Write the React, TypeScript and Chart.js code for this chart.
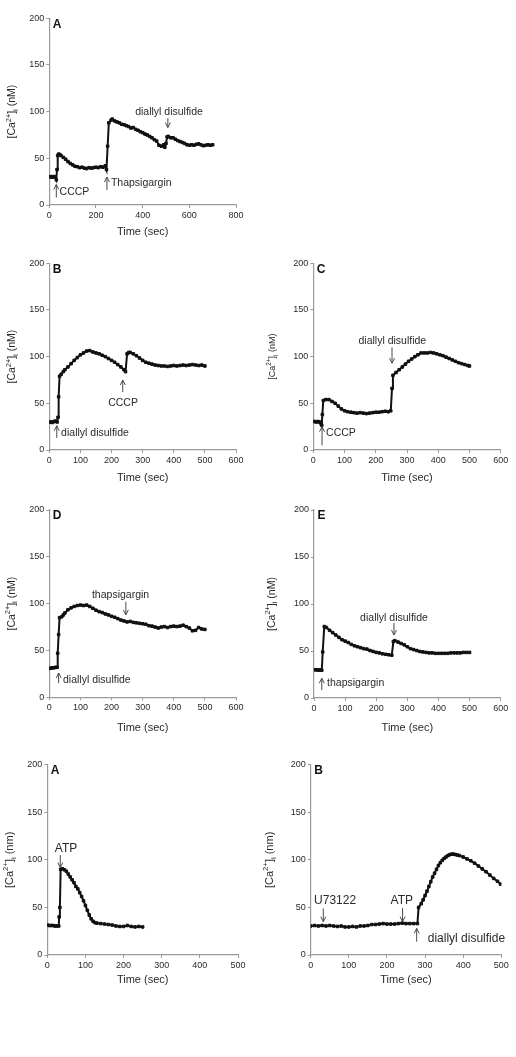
import React, { useEffect, useRef } from "react";
import { Chart, registerables } from "chart.js";

Chart.register(...registerables);

const FONT = "'Liberation Sans', Arial, Helvetica, sans-serif";
const AXIS = "#9a9a9a";
const TEXT = "#2a2a2a";
const TRACE = "#111111";

// Fig. 1A: CCCP, then thapsigargin, then diallyl disulfide
const cccpThapTime = [0, 5, 10, 15, 20, 25, 30, 33, 36, 40, 45, 50, 60, 70, 80, 90, 100, 110, 120, 130, 140, 150, 160, 170, 180, 190, 200, 210, 220, 230, 240, 245, 250, 255, 265, 270, 280, 290, 300, 310, 320, 330, 340, 350, 360, 370, 380, 390, 400, 410, 420, 430, 440, 450, 460, 470, 480, 490, 495, 500, 505, 510, 520, 530, 540, 550, 560, 570, 580, 590, 600, 610, 620, 630, 640, 650, 660, 670, 680, 690, 700];
const cccpThapCa = [30, 30.5, 30, 30, 30.5, 30, 27, 38, 53, 54.5, 54, 53, 51, 49, 46.5, 44.5, 43, 41.5, 41, 40, 40.5, 39.5, 39, 40, 39.5, 40, 40.5, 40, 41, 40.5, 42, 38, 63, 88, 91, 92, 90, 89, 88, 86.5, 86, 85, 84, 82.5, 83, 81, 80, 78.5, 77.5, 76, 75, 73.5, 72, 70, 68.5, 64, 63, 64.5, 62, 66, 73, 73.5, 72, 72, 70.5, 69, 68, 67, 66, 64.5, 64, 64.5, 64, 65, 65.5, 64.5, 63.5, 64, 64.5, 64, 64.5];

// Fig. 1B: diallyl disulfide, then CCCP
const dadsCccpTime = [0, 5, 10, 15, 20, 25, 28, 30, 33, 38, 45, 50, 60, 70, 80, 90, 100, 110, 120, 130, 140, 150, 160, 170, 180, 190, 200, 210, 220, 230, 240, 245, 250, 255, 260, 270, 280, 290, 300, 310, 320, 330, 340, 350, 360, 370, 380, 390, 400, 410, 420, 430, 440, 450, 460, 470, 480, 490, 500];
const dadsCccpCa = [30, 30, 29.5, 30.5, 31, 30, 35, 57, 79, 81, 84, 86, 89, 92.5, 96, 99, 102, 104, 106, 106.5, 105, 104, 103, 101.5, 100, 98, 96, 94, 91.5, 89, 86, 84, 103, 104.5, 104.5, 103, 101, 98.5, 96, 94, 93, 92, 91, 90.5, 90, 90, 89.5, 90, 90.5, 90, 90.5, 91, 90.5, 91, 91.5, 91, 90.5, 91, 90];

// Fig. 1C: CCCP, then diallyl disulfide
const cccpDadsTime = [0, 5, 10, 15, 20, 25, 27, 29, 32, 40, 50, 60, 70, 80, 90, 100, 110, 120, 130, 140, 150, 160, 170, 180, 190, 200, 210, 220, 230, 240, 248, 252, 255, 265, 275, 285, 295, 305, 315, 325, 335, 345, 355, 365, 375, 385, 395, 405, 415, 425, 435, 445, 455, 465, 475, 485, 495, 500];
const cccpDadsCa = [30.5, 30.5, 30, 30.5, 30, 28, 26.5, 38, 53, 54, 54, 52, 50, 47, 44, 42, 41, 40.5, 40, 39.5, 40, 39.5, 39, 39.5, 40, 40.5, 40.5, 41, 41.5, 41, 42, 66, 80, 83, 86, 89, 92, 95, 97.5, 100, 102, 104, 104, 104, 104.5, 104, 103, 102, 101, 99.5, 98, 96.5, 95, 93.5, 92.5, 91.5, 90.5, 90];

// Fig. 1D: diallyl disulfide, then thapsigargin
const dadsThapTime = [0, 5, 10, 15, 20, 25, 27, 30, 33, 40, 45, 50, 60, 70, 80, 90, 100, 110, 120, 130, 140, 150, 160, 170, 180, 190, 200, 210, 220, 230, 240, 250, 260, 270, 280, 290, 300, 310, 320, 330, 340, 350, 360, 370, 380, 390, 400, 410, 420, 430, 440, 450, 460, 470, 480, 490, 500];
const dadsThapCa = [31, 31, 31.5, 31.5, 32, 32, 47, 67, 85, 86, 88, 90, 93.5, 95.5, 97, 98, 98.5, 98, 98.5, 97, 95, 93, 91.5, 90.5, 89, 88, 86.5, 85.5, 84, 82.5, 81.5, 80.5, 81, 80, 79.5, 79, 78.5, 78, 76.5, 76, 75, 74, 75, 75.5, 74.5, 75.5, 76, 75.5, 76, 77, 75.5, 74, 71, 71.5, 74.5, 73, 72.5];

// Fig. 1E: thapsigargin, then diallyl disulfide
const thapDadsTime = [0, 5, 10, 15, 20, 25, 28, 33, 40, 50, 60, 70, 80, 90, 100, 110, 120, 130, 140, 150, 160, 170, 180, 190, 200, 210, 220, 230, 240, 250, 255, 260, 270, 280, 290, 300, 310, 320, 330, 340, 350, 360, 370, 380, 390, 400, 410, 420, 430, 440, 450, 460, 470, 480, 490, 500];
const thapDadsCa = [30, 30, 30, 29.5, 30, 29.5, 49, 76, 75, 72, 69.5, 67, 64.5, 62, 60.5, 59, 57, 55.5, 54.5, 53.5, 52.5, 52, 50.5, 49.5, 48.5, 48, 47, 46.5, 46, 45.5, 60, 61, 59.5, 58, 56.5, 54.5, 52.5, 51.5, 50.5, 49.5, 49, 48.5, 48, 48, 47.5, 47.5, 47.5, 47.5, 47.5, 48, 48, 48, 48, 48.5, 48.5, 48.5];

// Fig. 2A: ATP alone
const atpTime = [0, 5, 10, 15, 20, 25, 30, 31, 33, 35, 40, 45, 50, 55, 60, 65, 70, 75, 80, 85, 90, 95, 100, 105, 110, 115, 120, 125, 130, 140, 150, 160, 170, 180, 190, 200, 210, 220, 230, 240, 250];
const atpCa = [31.5, 31, 31, 31, 30.5, 30.5, 30.5, 40, 50, 90, 90.5, 89.5, 88, 85, 82, 79, 76, 72, 69.5, 65.5, 61.5, 57, 52, 47, 42, 38, 35.5, 34, 33.5, 33, 32.5, 32, 31.5, 30.5, 30, 30, 31, 30, 29.5, 30, 29.5];

// Fig. 2B: U73122, ATP, then diallyl disulfide
const u73Time = [0, 10, 20, 30, 40, 50, 60, 70, 80, 90, 100, 110, 120, 130, 140, 150, 160, 170, 180, 190, 200, 210, 220, 230, 240, 250, 260, 270, 280, 283, 290, 295, 300, 305, 310, 315, 320, 325, 330, 335, 340, 345, 350, 355, 360, 365, 370, 375, 380, 385, 390, 400, 410, 420, 430, 440, 450, 460, 470, 480, 490, 498];
const u73Ca = [30.5, 31, 30.5, 31, 30.5, 31, 30.5, 30, 30.5, 29.5, 29.5, 30, 29.5, 30.5, 30.5, 31, 32, 32, 32.5, 33, 32.5, 32.5, 32.5, 33, 33.5, 33, 33, 33, 33, 50, 54, 58, 62.5, 67, 72, 77, 82, 86, 90, 94, 97, 99.5, 101.5, 103, 104.5, 105.5, 106, 106, 105.5, 105, 104.5, 103, 101, 99, 96.5, 93.5, 90.5, 87.5, 84, 80.5, 77.5, 74.5];

// Axis ticks
const yTicks = [0, 50, 100, 150, 200];
const xTicks800 = [0, 200, 400, 600, 800];
const xTicks600 = [0, 100, 200, 300, 400, 500, 600];
const xTicks500 = [0, 100, 200, 300, 400, 500];

type Note = {
  text: string;
  t: number; // label anchor (time)
  v: number; // label anchor (nM)
  align: CanvasTextAlign;
  at: number; // arrow time
  from: number; // arrow tail (nM)
  to: number; // arrow head (nM)
};

type PanelCfg = {
  letter: string;
  time: number[];
  ca: number[];
  xTicks: number[];
  unit: string;
  box: [number, number, number, number];
  plot: [number, number, number, number];
  yTitleX: number;
  yTitleSize: number;
  xTitleY: number;
  noteSize: number;
  notes: Note[];
};

const panels: PanelCfg[] = [
  {
    letter: "A", time: cccpThapTime, ca: cccpThapCa, xTicks: xTicks800, unit: "nM",
    box: [0, 0, 258, 245], plot: [49.3, 18.3, 236, 205],
    yTitleX: 12.5, yTitleSize: 10.5, xTitleY: 231.7, noteSize: 10.5,
    notes: [
      { text: "CCCP", t: 44, v: 14, align: "left", at: 30, from: 8, to: 22 },
      { text: "Thapsigargin", t: 264, v: 23, align: "left", at: 247, from: 16, to: 30 },
      { text: "diallyl disulfide", t: 513, v: 100, align: "center", at: 508, from: 93, to: 83 },
    ],
  },
  {
    letter: "B", time: dadsCccpTime, ca: dadsCccpCa, xTicks: xTicks600, unit: "nM",
    box: [0, 245, 258, 250], plot: [49.3, 263.3, 236, 450],
    yTitleX: 12.5, yTitleSize: 10.5, xTitleY: 478, noteSize: 10.5,
    notes: [
      { text: "diallyl disulfide", t: 38, v: 18.5, align: "left", at: 24, from: 13, to: 26 },
      { text: "CCCP", t: 237, v: 50, align: "center", at: 236, from: 62, to: 75 },
    ],
  },
  {
    letter: "C", time: cccpDadsTime, ca: cccpDadsCa, xTicks: xTicks600, unit: "nM",
    box: [258, 245, 258, 250], plot: [313.3, 263.3, 500.7, 450],
    yTitleX: 273, yTitleSize: 9, xTitleY: 478, noteSize: 10.5,
    notes: [
      { text: "CCCP", t: 41, v: 18.5, align: "left", at: 28, from: 5, to: 25 },
      { text: "diallyl disulfide", t: 253, v: 116.5, align: "center", at: 252, from: 110, to: 93 },
    ],
  },
  {
    letter: "D", time: dadsThapTime, ca: dadsThapCa, xTicks: xTicks600, unit: "nM",
    box: [0, 495, 258, 250], plot: [49.3, 510, 236, 697.3],
    yTitleX: 12, yTitleSize: 10.5, xTitleY: 728, noteSize: 10.5,
    notes: [
      { text: "diallyl disulfide", t: 44, v: 18.5, align: "left", at: 30, from: 15, to: 26 },
      { text: "thapsigargin", t: 229, v: 109, align: "center", at: 246, from: 102, to: 88 },
    ],
  },
  {
    letter: "E", time: thapDadsTime, ca: thapDadsCa, xTicks: xTicks600, unit: "nM",
    box: [258, 495, 258, 250], plot: [314, 510, 500.7, 698],
    yTitleX: 272, yTitleSize: 10.5, xTitleY: 728, noteSize: 10.5,
    notes: [
      { text: "thapsigargin", t: 42, v: 16, align: "left", at: 25, from: 8.5, to: 21 },
      { text: "diallyl disulfide", t: 257, v: 85.5, align: "center", at: 257, from: 80, to: 67 },
    ],
  },
  {
    letter: "A", time: atpTime, ca: atpCa, xTicks: xTicks500, unit: "nm",
    box: [0, 745, 258, 312], plot: [47.3, 764.7, 238, 955],
    yTitleX: 10, yTitleSize: 11, xTitleY: 980, noteSize: 12,
    notes: [
      { text: "ATP", t: 49, v: 112, align: "center", at: 34, from: 105, to: 92 },
    ],
  },
  {
    letter: "B", time: u73Time, ca: u73Ca, xTicks: xTicks500, unit: "nm",
    box: [258, 745, 258, 312], plot: [310.7, 764.7, 501.3, 955],
    yTitleX: 270, yTitleSize: 11, xTitleY: 979.5, noteSize: 12,
    notes: [
      { text: "U73122", t: 64, v: 57, align: "center", at: 33, from: 49, to: 35 },
      { text: "ATP", t: 239, v: 57, align: "center", at: 241, from: 49.4, to: 35 },
      { text: "diallyl disulfide", t: 307, v: 17, align: "left", at: 278, from: 14, to: 28 },
    ],
  },
];

function drawCaTitle(ctx: CanvasRenderingContext2D, cx: number, cy: number, unit: string, size: number) {
  const small = size * 0.7;
  const parts = [
    { s: "[Ca", f: size, dy: 0 },
    { s: "2+", f: small, dy: -size * 0.38 },
    { s: "]", f: size, dy: 0 },
    { s: "i", f: small, dy: size * 0.32 },
    { s: ` (${unit})`, f: size, dy: 0 },
  ];
  ctx.save();
  ctx.translate(cx, cy);
  ctx.rotate(-Math.PI / 2);
  ctx.fillStyle = TEXT;
  ctx.textBaseline = "middle";
  ctx.textAlign = "left";
  let total = 0;
  const widths = parts.map((p) => {
    ctx.font = `${p.f}px ${FONT}`;
    const w = ctx.measureText(p.s).width;
    total += w;
    return w;
  });
  let x = -total / 2;
  parts.forEach((p, i) => {
    ctx.font = `${p.f}px ${FONT}`;
    ctx.fillText(p.s, x, p.dy);
    x += widths[i];
  });
  ctx.restore();
}

function drawArrow(ctx: CanvasRenderingContext2D, x: number, y1: number, y2: number) {
  const dir = y2 > y1 ? 1 : -1;
  ctx.save();
  ctx.strokeStyle = "#4a4a4a";
  ctx.lineWidth = 1;
  ctx.beginPath();
  ctx.moveTo(x, y1);
  ctx.lineTo(x, y2);
  ctx.moveTo(x - 2.5, y2 - dir * 5);
  ctx.lineTo(x, y2);
  ctx.lineTo(x + 2.5, y2 - dir * 5);
  ctx.stroke();
  ctx.restore();
}

function Panel({ cfg }: { cfg: PanelCfg }) {
  const ref = useRef<HTMLCanvasElement | null>(null);
  const [bl, bt, bw, bh] = cfg.box;
  const [pl, pt, pr, pb] = cfg.plot;

  useEffect(() => {
    if (!ref.current) return;
    const xMax = cfg.xTicks[cfg.xTicks.length - 1];
    const xStep = cfg.xTicks[1] - cfg.xTicks[0];
    const yStep = yTicks[1] - yTicks[0];

    const decor = {
      id: "decor",
      afterDraw(chart: Chart) {
        const ctx = chart.ctx;
        const xs = chart.scales.x;
        const ys = chart.scales.y;
        const area = chart.chartArea;

        // panel letter
        ctx.save();
        ctx.fillStyle = "#111";
        ctx.font = `bold 12px ${FONT}`;
        ctx.textAlign = "left";
        ctx.textBaseline = "middle";
        ctx.fillText(cfg.letter, area.left + 3.5, area.top + 6);

        // x title
        ctx.fillStyle = TEXT;
        ctx.font = `11px ${FONT}`;
        ctx.textAlign = "center";
        ctx.fillText("Time (sec)", (area.left + area.right) / 2, cfg.xTitleY - bt);
        ctx.restore();

        // y title
        drawCaTitle(ctx, cfg.yTitleX - bl, (area.top + area.bottom) / 2, cfg.unit, cfg.yTitleSize);

        // treatment labels with arrows
        cfg.notes.forEach((n) => {
          ctx.save();
          ctx.fillStyle = TEXT;
          ctx.font = `${cfg.noteSize}px ${FONT}`;
          ctx.textAlign = n.align;
          ctx.textBaseline = "middle";
          ctx.fillText(n.text, xs.getPixelForValue(n.t), ys.getPixelForValue(n.v));
          ctx.restore();
          drawArrow(ctx, xs.getPixelForValue(n.at), ys.getPixelForValue(n.from), ys.getPixelForValue(n.to));
        });
      },
    };

    const chart = new Chart(ref.current, {
      type: "line",
      data: {
        datasets: [
          {
            data: cfg.time.map((t, i) => ({ x: t, y: cfg.ca[i] })),
            borderColor: TRACE,
            backgroundColor: TRACE,
            borderWidth: 2,
            pointStyle: "rect",
            pointRadius: 1.8,
            pointBorderWidth: 1,
            pointBackgroundColor: TRACE,
            pointBorderColor: TRACE,
            tension: 0,
          },
        ],
      },
      options: {
        animation: false,
        responsive: false,
        devicePixelRatio: 1,
        layout: { padding: { top: pt - bt, right: bl + bw - pr, left: 0, bottom: 0 } },
        plugins: { legend: { display: false }, tooltip: { enabled: false } },
        scales: {
          x: {
            type: "linear",
            min: 0,
            max: xMax,
            afterFit: (s: any) => { s.height = bt + bh - pb; },
            afterBuildTicks: (s: any) => { s.ticks = cfg.xTicks.map((v) => ({ value: v })); },
            ticks: { stepSize: xStep, color: TEXT, padding: 2, maxRotation: 0, font: { family: FONT, size: 9 } },
            grid: { display: true, drawOnChartArea: false, drawTicks: true, tickLength: 3, color: AXIS },
            border: { display: true, color: AXIS, width: 1.2 },
          },
          y: {
            type: "linear",
            min: 0,
            max: 200,
            afterFit: (s: any) => { s.width = pl - bl; },
            afterBuildTicks: (s: any) => { s.ticks = yTicks.map((v) => ({ value: v })); },
            ticks: { stepSize: yStep, color: TEXT, padding: 2, font: { family: FONT, size: 9 } },
            grid: { display: true, drawOnChartArea: false, drawTicks: true, tickLength: 3, color: AXIS },
            border: { display: true, color: AXIS, width: 1.2 },
          },
        },
      },
      plugins: [decor],
    });
    return () => chart.destroy();
  }, [cfg]);

  return (
    <canvas
      ref={ref}
      width={bw}
      height={bh}
      style={{ position: "absolute", left: bl, top: bt, width: bw, height: bh }}
    />
  );
}

export default function App() {
  return (
    <div style={{ position: "absolute", left: 0, top: 0, width: 516, height: 1057, background: "#fff" }}>
      {panels.map((p, i) => (
        <Panel key={i} cfg={p} />
      ))}
    </div>
  );
}
